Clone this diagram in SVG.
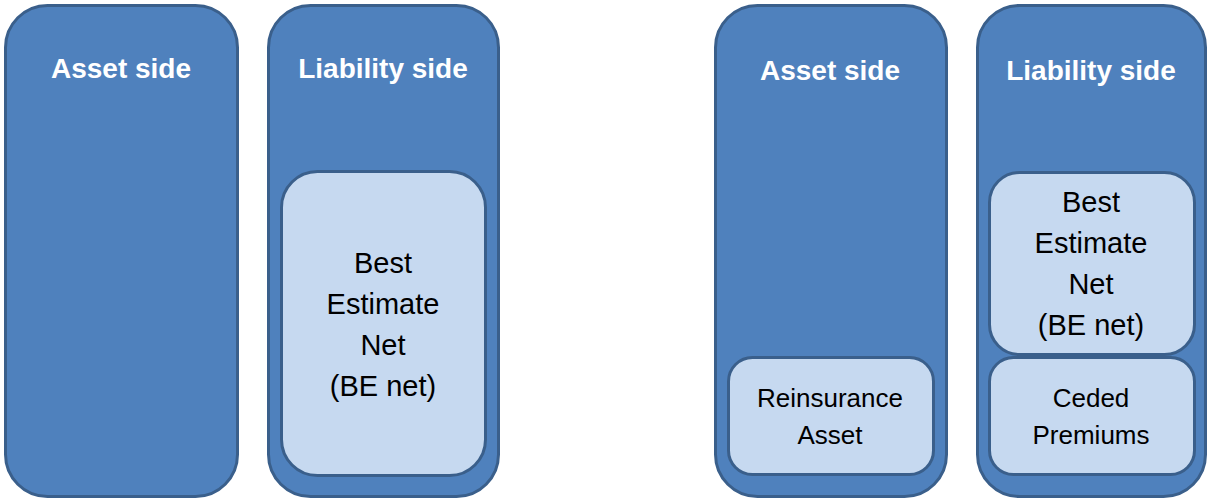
<svg xmlns="http://www.w3.org/2000/svg" width="1208" height="499" viewBox="0 0 1208 499">
<style>
.outer{fill:#4F81BD;stroke:#3A5F8B;stroke-width:3}
.inner{fill:#C6D9F0;stroke:#3A5F8B;stroke-width:3}
.title{font-family:"Liberation Sans",Arial,sans-serif;font-weight:bold;font-size:28px;fill:#FFFFFF;text-anchor:middle}
.lbl{font-family:"Liberation Sans",Arial,sans-serif;font-size:29px;fill:#000000;text-anchor:middle}
.sm{font-family:"Liberation Sans",Arial,sans-serif;font-size:26px;fill:#000000;text-anchor:middle}
</style>
<rect width="1208" height="499" fill="#FFFFFF"/>
<g id="asset1">
<rect class="outer" x="5.5" y="5.5" width="232" height="491" rx="42"/>
<text class="title" x="121" y="78">Asset side</text>
</g>
<g id="liability1">
<rect class="outer" x="268.5" y="5.5" width="230" height="491" rx="42"/>
<text class="title" x="383" y="78">Liability side</text>
</g>
<g id="be1">
<rect class="inner" x="281.5" y="171.5" width="204" height="304" rx="36"/>
<text class="lbl" x="383" y="273">Best</text>
<text class="lbl" x="383" y="314">Estimate</text>
<text class="lbl" x="383" y="355">Net</text>
<text class="lbl" x="383" y="396">(BE net)</text>
</g>
<g id="asset2">
<rect class="outer" x="715.5" y="5.5" width="231" height="491" rx="42"/>
<text class="title" x="830" y="80">Asset side</text>
</g>
<g id="reins">
<rect class="inner" x="728.5" y="357.5" width="205" height="117" rx="24"/>
<text class="sm" x="830" y="407">Reinsurance</text>
<text class="sm" x="830" y="444">Asset</text>
</g>
<g id="liability2">
<rect class="outer" x="977.5" y="5.5" width="228" height="491" rx="42"/>
<text class="title" x="1091" y="80">Liability side</text>
</g>
<g id="be2">
<rect class="inner" x="989.5" y="172.5" width="205" height="182" rx="30"/>
<text class="lbl" x="1091" y="212">Best</text>
<text class="lbl" x="1091" y="253">Estimate</text>
<text class="lbl" x="1091" y="294">Net</text>
<text class="lbl" x="1091" y="335">(BE net)</text>
</g>
<g id="ceded">
<rect class="inner" x="989.5" y="357.5" width="205" height="117" rx="24"/>
<text class="sm" x="1091" y="407">Ceded</text>
<text class="sm" x="1091" y="444">Premiums</text>
</g>
<g id="connectors"></g>
</svg>
